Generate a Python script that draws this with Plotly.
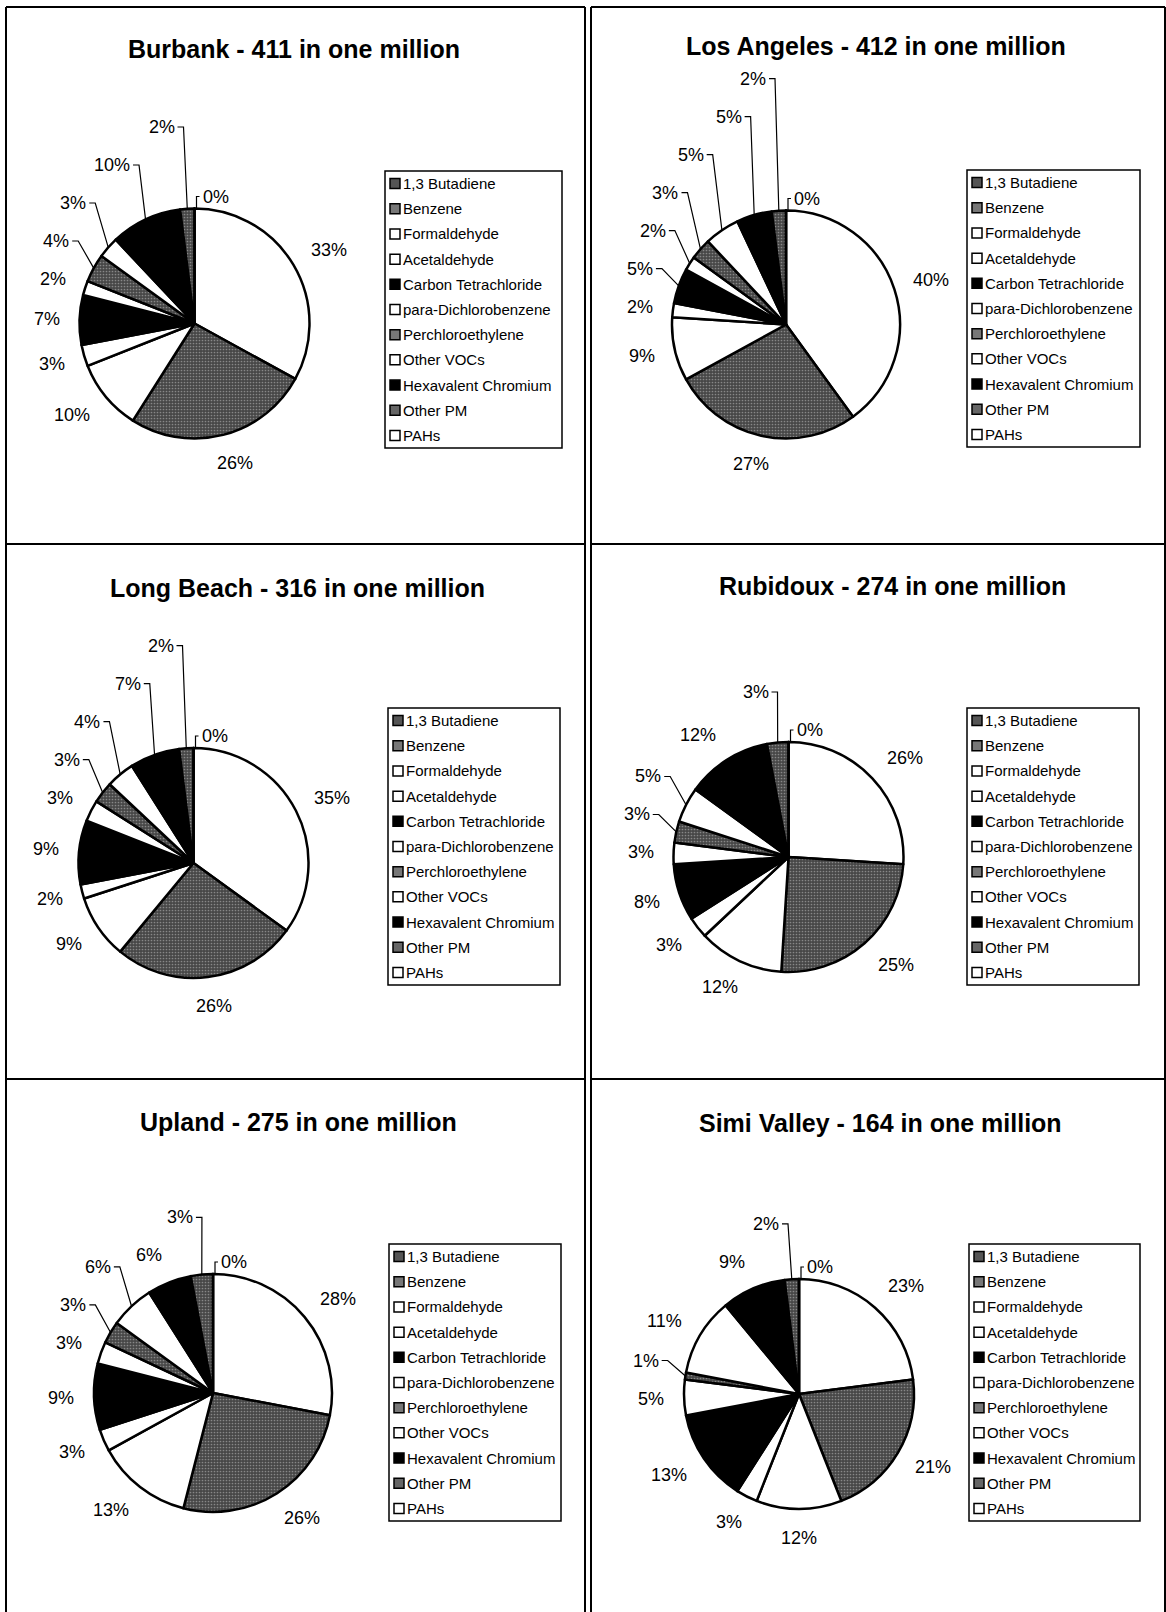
import math
import plotly.graph_objects as go

W, H = 1166, 1612

# ---- data -----------------------------------------------------------------
categories = [
    "1,3 Butadiene", "Benzene", "Formaldehyde", "Acetaldehyde",
    "Carbon Tetrachloride", "para-Dichlorobenzene", "Perchloroethylene",
    "Other VOCs", "Hexavalent Chromium", "Other PM", "PAHs",
]

sites = ["Burbank", "Los Angeles", "Long Beach", "Rubidoux", "Upland", "Simi Valley"]
risk_per_million = [411, 412, 316, 274, 275, 164]

# percent share of the cancer risk, in category order
burbank = [33, 26, 10, 3, 7, 2, 4, 3, 10, 2, 0]
los_angeles = [40, 27, 9, 2, 5, 2, 3, 5, 5, 2, 0]
long_beach = [35, 26, 9, 2, 9, 3, 3, 4, 7, 2, 0]
rubidoux = [26, 25, 12, 3, 8, 3, 3, 5, 12, 3, 0]
upland = [28, 26, 13, 3, 9, 3, 3, 6, 6, 3, 0]
simi_valley = [23, 21, 12, 3, 13, 5, 1, 11, 9, 2, 0]

site_values = [burbank, los_angeles, long_beach, rubidoux, upland, simi_valley]

# ---- styles ---------------------------------------------------------------
GRAY = "#474747"
slice_fill = ["white", GRAY, "white", "white", "black", "white", GRAY,
              "white", "black", GRAY, "white"]
slice_pattern = ["", ".", "", "", "", "", ".", "", "", ".", ""]
swatch_fill = ["#555555", "#777777", "white", "white", "black", "white",
               "#777777", "white", "black", "#666666", "white"]

FONT = "Arial, 'Liberation Sans', Helvetica, sans-serif"
LABEL_SIZE = 18
LEGEND_SIZE = 15
TITLE_SIZE = 25

# ---- page layout (pixels) -------------------------------------------------
col_x = [(6, 585), (591, 1165)]
row_y = [(7, 544), (544, 1079), (1079, 1640)]
pie_centers = [(194.5, 323.5), (786, 324.5), (193.5, 863), (788.5, 857),
               (213, 1393), (799, 1394)]
pie_radii = [115, 114, 115, 115, 119, 115]
title_pos = [(294, 49), (876, 46), (297, 588), (892, 586), (298.6, 1121.6),
             (880, 1122.6)]
legend_boxes = [(385, 171, 177, 277), (967, 170, 173, 277),
                (388, 708, 172, 277), (967, 708, 172, 277),
                (389, 1244, 172, 277), (969, 1244, 171, 277)]

PITCH = 38       # vertical spacing of stacked labels
CHAIN_DX = 47    # neighbouring labels closer than this horizontally are stacked


def text_width(txt, size):
    w = 0.0
    for ch in txt:
        if ch.isdigit():
            w += 0.556
        elif ch == "%":
            w += 0.889
        else:
            w += 0.5
    return w * size


def place_labels(values, cx, cy, r):
    """Outside-end percent labels; crowded labels are lifted and get leader lines."""
    total = float(sum(values))
    rho = r + 20
    half_h = LABEL_SIZE / 2
    items = []
    start = 0.0
    for i, v in enumerate(values):
        mid = (start + v / 2.0) / total * 360.0
        start += v
        items.append((i, v, mid))

    zero = [it for it in items if it[1] == 0]
    right = sorted([it for it in items if it[1] > 0 and math.sin(math.radians(it[2])) >= -1e-9],
                   key=lambda t: t[2])
    left = sorted([it for it in items if it[1] > 0 and math.sin(math.radians(it[2])) < -1e-9],
                  key=lambda t: t[2])

    placed = []
    out = []

    def collides(x, y, w):
        for p in placed:
            if abs(p["x"] - x) < (p["w"] + w) / 2 + p["pad"] and abs(p["y"] - y) < PITCH:
                return p
        return None

    # zero-width slices: label sits to the right of 12 o'clock, with room for its leader
    for i, v, th in zero:
        txt = f"{v}%"
        w = text_width(txt, LABEL_SIZE)
        x = cx + 8 + w / 2
        y = cy - (r + 12)
        placed.append(dict(x=x, y=y, w=w, pad=22))
        leader = [(x - w / 2 - 3, y), (cx + 2, y), (cx + 2, cy - r + 1)]
        out.append((txt, x, y, leader))

    def natural(v, th, side):
        txt = f"{v}%"
        w = text_width(txt, LABEL_SIZE)
        s, c = math.sin(math.radians(th)), math.cos(math.radians(th))
        if side < 0 and c >= 0:
            f = 1.0          # upper-left labels hang off their right edge
        else:
            f = min(1.0, 1.5 * abs(s))
        x = cx + rho * s + side * (w / 2) * f
        y = cy - (rho + half_h) * c
        return txt, w, s, c, x, y

    # right-hand labels
    for i, v, th in right:
        txt, w, s, c, x, y = natural(v, th, 1)
        y_nat = y
        for _ in range(40):
            hit = collides(x, y, w)
            if hit is None:
                break
            y = hit["y"] + PITCH
        placed.append(dict(x=x, y=y, w=w, pad=10))
        leader = None
        if abs(y - y_nat) > 3:
            leader = [(x - w / 2 - 3, y), (x - w / 2 - 9, y), (cx + r * s, cy - r * c)]
        out.append((txt, x, y, leader))

    # left-hand labels, stacked upwards in slice order
    prev = None
    for i, v, th in left:
        txt, w, s, c, x_nat, y_nat = natural(v, th, -1)
        x, y = x_nat, y_nat
        pushed = False
        if prev is not None:
            if y_nat > prev["y"] or (prev["y"] - y_nat < PITCH and abs(x_nat - prev["x"]) < CHAIN_DX):
                y = prev["y"] - PITCH
                pushed = True
        for _ in range(40):
            if pushed:
                x = min(x_nat - 7, cx - 20 - w / 2)
            hit = collides(x, y, w)
            if hit is None:
                break
            y = hit["y"] - PITCH
            pushed = True
        rec = dict(x=x, y=y, w=w, pad=10)
        placed.append(rec)
        prev = rec
        leader = None
        if pushed and abs(y - y_nat) > 3:
            leader = [(x + w / 2 + 3, y), (x + w / 2 + 9, y), (cx + r * s, cy - r * c)]
        out.append((txt, x, y, leader))
    return out


fig = go.Figure()
annotations = []
shapes = []
lead_x, lead_y = [], []

# panel frames
for (x0, x1) in col_x:
    for (y0, y1) in row_y:
        for seg in ((x0, y0, x1, y0), (x0, y0, x0, y1), (x1, y0, x1, y1)):
            shapes.append(dict(type="line", xref="x", yref="y",
                               x0=seg[0], y0=seg[1], x1=seg[2], y1=seg[3],
                               line=dict(color="black", width=2)))

for k, vals in enumerate(site_values):
    cx, cy = pie_centers[k]
    r = pie_radii[k]
    fig.add_trace(go.Pie(
        values=vals, labels=categories, sort=False, direction="clockwise",
        rotation=0, textinfo="none", showlegend=False,
        hoverinfo="label+percent", name=sites[k],
        domain=dict(x=[(cx - r) / W, (cx + r) / W],
                    y=[1 - (cy + r) / H, 1 - (cy - r) / H]),
        marker=dict(colors=slice_fill,
                    line=dict(color="black", width=2.5),
                    pattern=dict(shape=slice_pattern, fillmode="overlay",
                                 fgcolor="#c8c8c8", size=3, solidity=0.25)),
    ))

    # chart title
    tx, ty = title_pos[k]
    annotations.append(dict(
        x=tx, y=ty, xref="x", yref="y", showarrow=False,
        text=f"<b>{sites[k]} - {risk_per_million[k]} in one million</b>",
        font=dict(family=FONT, size=TITLE_SIZE, color="black"),
        xanchor="center", yanchor="middle"))

    # percent labels and leader lines
    for txt, x, y, leader in place_labels(vals, cx, cy, r):
        annotations.append(dict(
            x=x, y=y, xref="x", yref="y", showarrow=False, text=txt,
            font=dict(family=FONT, size=LABEL_SIZE, color="black"),
            xanchor="center", yanchor="middle"))
        if leader:
            for px, py in leader:
                lead_x.append(px)
                lead_y.append(py)
            lead_x.append(None)
            lead_y.append(None)

    # legend box
    lx, ly, lw, lh = legend_boxes[k]
    shapes.append(dict(type="rect", xref="x", yref="y", x0=lx, y0=ly,
                       x1=lx + lw, y1=ly + lh,
                       line=dict(color="black", width=1.5)))
    step = lh / len(categories)
    for j, name in enumerate(categories):
        yc = ly + step * (j + 0.5)
        shapes.append(dict(type="rect", xref="x", yref="y",
                           x0=lx + 5, x1=lx + 15, y0=yc - 5, y1=yc + 5,
                           fillcolor=swatch_fill[j],
                           line=dict(color="black", width=1.5)))
        annotations.append(dict(
            x=lx + 16, y=yc, xref="x", yref="y", showarrow=False, text=name,
            font=dict(family=FONT, size=LEGEND_SIZE, color="black"),
            xanchor="left", yanchor="middle"))

fig.add_trace(go.Scatter(
    x=lead_x, y=lead_y, mode="lines", xaxis="x", yaxis="y",
    line=dict(color="black", width=1.2), hoverinfo="skip", showlegend=False))

fig.update_layout(
    width=W, height=H, margin=dict(l=0, r=0, t=0, b=0),
    paper_bgcolor="white", plot_bgcolor="rgba(0,0,0,0)",
    xaxis=dict(range=[0, W], visible=False, fixedrange=True, domain=[0, 1]),
    yaxis=dict(range=[H, 0], visible=False, fixedrange=True, domain=[0, 1]),
    annotations=annotations, shapes=shapes, showlegend=False,
)

fig.write_html("out.html")
